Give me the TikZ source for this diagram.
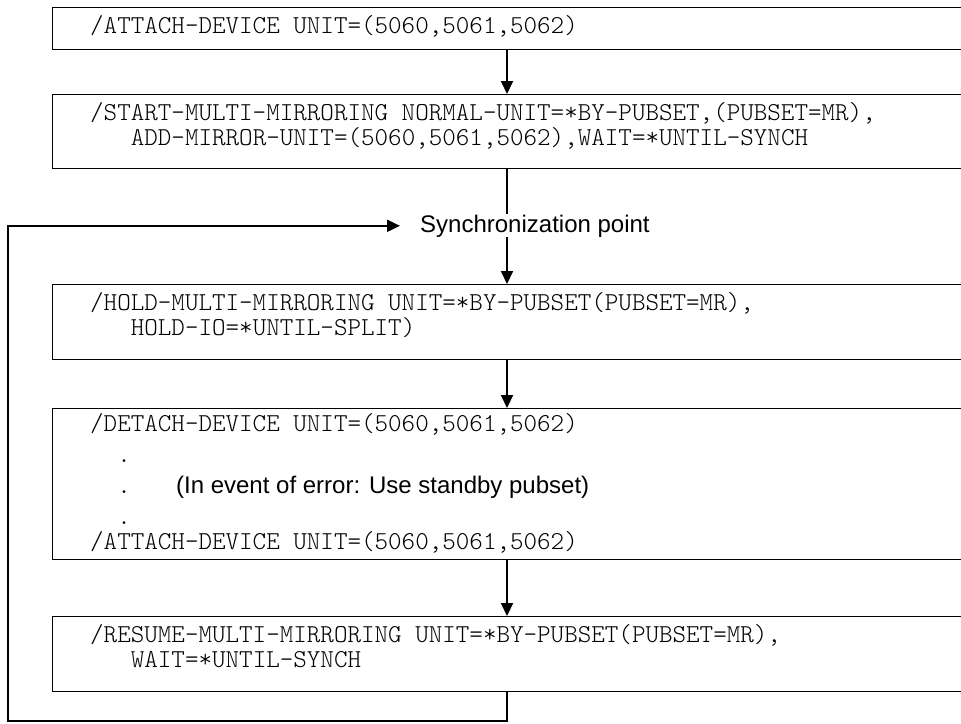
\documentclass[tikz,border=0pt]{standalone}
\usepackage{fontspec}
\newfontfamily\sansfont{Liberation Sans}
\newfontfamily\cmdfont{lmmonolt10-regular.otf}
\usetikzlibrary{arrows.meta,positioning}
\newlength\chw
\setlength\chw{13.55pt}
\newcommand\ind[1]{\hspace*{#1\chw}}
\lineskiplimit=-100pt

\begin{document}
\begin{tikzpicture}[x=1pt,y=-1pt,
    cmdbox/.style={draw, line width=1.3pt, anchor=north west, inner sep=0pt, minimum width=940pt},
    cmdtext/.style={anchor=north west, inner sep=0pt, align=left,
      font=\cmdfont\fontsize{25.8}{25}\selectfont},
    synctext/.style={anchor=base west, fill=white, inner xsep=0pt, inner ysep=0.5pt,
      font=\sansfont\fontsize{24}{28}\selectfont},
    flow/.style={line width=2pt, -{Triangle[length=13pt,width=12pt]}}]
		\clip (0,0) rectangle (961,723);
		
		%%%%% boxes %%%%%
		\node[cmdbox, minimum height=42pt] (attach) at (52,7) {};
		\node[cmdbox, minimum height=74pt] (start) at (52,94) {};
		\node[cmdbox, minimum height=75pt] (hold) at (52,284) {};
		\node[cmdbox, minimum height=151pt] (detach) at (52,408) {};
		\node[cmdbox, minimum height=75pt] (resume) at (52,616) {};
		
		%%%%% commands %%%%%
		\node[cmdtext, below right=8.6pt and 38pt of attach.north west] (attachtxt)
		  {/ATTACH-DEVICE UNIT=(5060,5061,5062)};
		\node[cmdtext, below right=8.6pt and 38pt of start.north west] (starttxt)
		  {/START-MULTI-MIRRORING NORMAL-UNIT=*BY-PUBSET,(PUBSET=MR),\\
		   \ind{3}ADD-MIRROR-UNIT=(5060,5061,5062),WAIT=*UNTIL-SYNCH};
		\node[cmdtext, below right=8.6pt and 38pt of hold.north west] (holdtxt)
		  {/HOLD-MULTI-MIRRORING UNIT=*BY-PUBSET(PUBSET=MR),\\
		   \ind{3}HOLD-IO=*UNTIL-SPLIT)};
		\node[cmdtext, below right=5pt and 38pt of detach.north west] (detachtxt)
		  {/DETACH-DEVICE UNIT=(5060,5061,5062)\\[6pt]
		   \ind{2}.\\[6pt]
		   \ind{2}.\hspace*{45.3pt}{\sansfont\fontsize{24}{28}\selectfont (In event of error: Use standby pubset)}\\[6pt]
		   \ind{2}.\\
		   /ATTACH-DEVICE UNIT=(5060,5061,5062)};
		\node[cmdtext, below right=8.6pt and 38pt of resume.north west] (resumetxt)
		  {/RESUME-MULTI-MIRRORING UNIT=*BY-PUBSET(PUBSET=MR),\\
		   \ind{3}WAIT=*UNTIL-SYNCH};
		
		%%%%% flow %%%%%
		\coordinate (spine) at (507,0);
		\coordinate (corner) at (8,721);
		\draw[flow] (attach.south west -| spine) -- (start.north west -| spine);
		\draw[flow] (start.south west -| spine) -- (hold.north west -| spine);
		\draw[flow] (hold.south west -| spine) -- (detach.north west -| spine);
		\draw[flow] (detach.south west -| spine) -- (resume.north west -| spine);
		
		\node[synctext] (sync) at (420,232) {Synchronization point};
		\draw[flow] (resume.south west -| spine) |- (corner) |- ([xshift=-20pt]sync.west);
	\end{tikzpicture}
\end{document}
